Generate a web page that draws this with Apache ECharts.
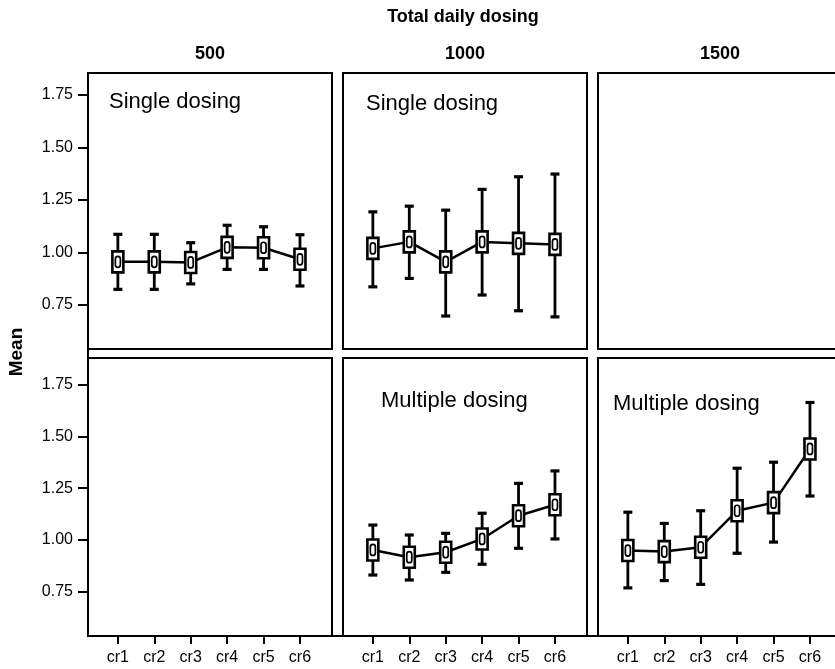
<!DOCTYPE html>
<html>
<head>
<meta charset="utf-8">
<script src="https://cdn.jsdelivr.net/npm/echarts@6/dist/echarts.min.js"></script>
<style>
    html, body { margin: 0; padding: 0; background: #fff; }
    #chart { width: 835px; height: 669px; }
</style>
</head>
<body>
<div id="chart"></div>
<script>
// data
const categories = ['cr1', 'cr2', 'cr3', 'cr4', 'cr5', 'cr6'];
const doseLabels = ['500', '1000', '1500'];
const yTicks = [0.75, 1.00, 1.25, 1.50, 1.75];

const single500Mean = [0.955, 0.955, 0.952, 1.024, 1.022, 0.967];
const single500Low = [0.824, 0.824, 0.850, 0.919, 0.919, 0.840];
const single500High = [1.086, 1.086, 1.046, 1.129, 1.122, 1.084];

const single1000Mean = [1.019, 1.050, 0.955, 1.050, 1.043, 1.038];
const single1000Low = [0.836, 0.876, 0.697, 0.797, 0.722, 0.693];
const single1000High = [1.193, 1.220, 1.201, 1.300, 1.360, 1.373];

const multi1000Mean = [0.952, 0.917, 0.941, 1.005, 1.117, 1.170];
const multi1000Low = [0.831, 0.807, 0.844, 0.883, 0.960, 1.005];
const multi1000High = [1.072, 1.024, 1.032, 1.129, 1.273, 1.333];

const multi1500Mean = [0.949, 0.944, 0.965, 1.141, 1.180, 1.439];
const multi1500Low = [0.769, 0.804, 0.786, 0.936, 0.990, 1.212];
const multi1500High = [1.134, 1.080, 1.141, 1.346, 1.375, 1.663];

(function () {
    const myChart = echarts.init(document.getElementById('chart'));
    const font = '"Liberation Sans", Arial, sans-serif';

    // layout of the 2 x 3 panels (the last column runs off the right edge)
    const colLeft = [88, 343, 598];
    const colWidth = [244, 244, 252];
    const labelWidth = 244;
    const unitPx = 36.42; // pixels per category step
    const xMin = 0.18;
    const rowTop = [73, 358];
    const rowHeight = [276, 278];
    const rowRange = [[0.54, 1.854], [0.537, 1.8775]];

    // row 0 = single dosing, row 1 = multiple dosing
    const panels = [
        { row: 0, col: 0, mean: single500Mean, low: single500Low, high: single500High, label: 'Single dosing', lx: 109, ly: 91 },
        { row: 0, col: 1, mean: single1000Mean, low: single1000Low, high: single1000High, label: 'Single dosing', lx: 366, ly: 93 },
        { row: 0, col: 2 },
        { row: 1, col: 0 },
        { row: 1, col: 1, mean: multi1000Mean, low: multi1000Low, high: multi1000High, label: 'Multiple dosing', lx: 381, ly: 390 },
        { row: 1, col: 2, mean: multi1500Mean, low: multi1500Low, high: multi1500High, label: 'Multiple dosing', lx: 613, ly: 393 }
    ];

    const xPos = categories.map((c, i) => i + 1);

    function renderErrorBox(params, api) {
        const x = api.value(0);
        const mid = api.coord([x, api.value(1)]);
        const lo = api.coord([x, api.value(2)]);
        const hi = api.coord([x, api.value(3)]);
        const cap = 4.5;
        const barStyle = { stroke: '#000', lineWidth: 2.8 };
        return {
            type: 'group',
            children: [
                { type: 'line', shape: { x1: lo[0], y1: lo[1], x2: hi[0], y2: hi[1] }, style: barStyle },
                { type: 'line', shape: { x1: lo[0] - cap, y1: lo[1], x2: lo[0] + cap, y2: lo[1] }, style: { stroke: '#000', lineWidth: 3.2 } },
                { type: 'line', shape: { x1: hi[0] - cap, y1: hi[1], x2: hi[0] + cap, y2: hi[1] }, style: { stroke: '#000', lineWidth: 3.2 } },
                { type: 'rect', shape: { x: mid[0] - 5.5, y: mid[1] - 10.5, width: 11, height: 21 }, style: { fill: '#fff', stroke: '#000', lineWidth: 2.6 } },
                { type: 'rect', shape: { x: mid[0] - 2.5, y: mid[1] - 5.5, width: 5, height: 11, r: 2.5 }, style: { fill: '#fff', stroke: '#000', lineWidth: 1.7 } }
            ]
        };
    }

    const grid = [], xAxis = [], yAxis = [], series = [];
    const title = [
        { text: 'Total daily dosing', left: 463, top: 8, padding: 0, textAlign: 'center', textStyle: { fontSize: 18, fontWeight: 'bold', fontFamily: font, color: '#000' } }
    ];

    doseLabels.forEach(function (d, c) {
        title.push({
            text: d, left: colLeft[c] + labelWidth / 2, top: 45, padding: 0, textAlign: 'center',
            textStyle: { fontSize: 18, fontWeight: 'bold', fontFamily: font, color: '#000' }
        });
    });

    panels.forEach(function (p, i) {
        grid.push({
            left: colLeft[p.col], top: rowTop[p.row], width: colWidth[p.col], height: rowHeight[p.row],
            outerBoundsMode: 'none', containLabel: false,
            show: true, borderColor: '#000', borderWidth: 2, backgroundColor: '#fff'
        });
        const bottomRow = p.row === 1;
        xAxis.push({
            gridIndex: i, type: 'value', min: xMin, max: xMin + colWidth[p.col] / unitPx,
            splitLine: { show: false },
            axisLine: { show: bottomRow, lineStyle: { color: '#000', width: 2 } },
            axisTick: { show: bottomRow, customValues: xPos, length: 8, lineStyle: { color: '#000', width: 2 } },
            axisLabel: {
                show: bottomRow, customValues: xPos, margin: 14,
                formatter: v => categories[Math.round(v) - 1],
                color: '#000', fontSize: 16, fontFamily: font
            }
        });
        const leftCol = p.col === 0;
        yAxis.push({
            gridIndex: i, type: 'value', min: rowRange[p.row][0], max: rowRange[p.row][1],
            splitLine: { show: false },
            axisLine: { show: leftCol, lineStyle: { color: '#000', width: 2 } },
            axisTick: { show: leftCol, customValues: yTicks, length: 10, lineStyle: { color: '#000', width: 2 } },
            axisLabel: {
                show: leftCol, customValues: yTicks, margin: 15,
                formatter: v => v.toFixed(2),
                color: '#000', fontSize: 16, fontFamily: font
            }
        });
        if (!p.mean) return;
        title.push({
            text: p.label, left: p.lx, top: p.ly, padding: 0,
            textStyle: { fontSize: 22, fontWeight: 'normal', fontFamily: font, color: '#000' }
        });
        series.push({
            type: 'line', xAxisIndex: i, yAxisIndex: i, z: 2,
            data: xPos.map((x, j) => [x, p.mean[j]]),
            symbol: 'none', silent: true,
            lineStyle: { color: '#000', width: 2.5 }
        });
        series.push({
            type: 'custom', xAxisIndex: i, yAxisIndex: i, z: 3,
            data: xPos.map((x, j) => [x, p.mean[j], p.low[j], p.high[j]]),
            encode: { x: 0, y: 1 },
            renderItem: renderErrorBox
        });
    });

    const axisStroke = { stroke: '#000', lineWidth: 2 };
    const bottomY = rowTop[1] + rowHeight[1];

    const option = {
        backgroundColor: '#fff',
        animation: false,
        title: title,
        grid: grid,
        xAxis: xAxis,
        yAxis: yAxis,
        series: series,
        graphic: [
            {
                type: 'text', x: 17, y: 352, rotation: Math.PI / 2,
                style: { text: 'Mean', fontSize: 19, fontWeight: 'bold', fontFamily: font, fill: '#000', align: 'center', verticalAlign: 'middle' }
            },
            // outer frame lines that run through the gaps between panels
            { type: 'line', z: 10, shape: { x1: colLeft[0], y1: rowTop[0], x2: colLeft[0], y2: bottomY }, style: axisStroke },
            { type: 'line', z: 10, shape: { x1: colLeft[0], y1: bottomY, x2: 835, y2: bottomY }, style: axisStroke }
        ]
    };

    myChart.setOption(option);
    window.addEventListener('resize', function () {
        myChart.resize();
    });
})();
</script>
</body>
</html>
